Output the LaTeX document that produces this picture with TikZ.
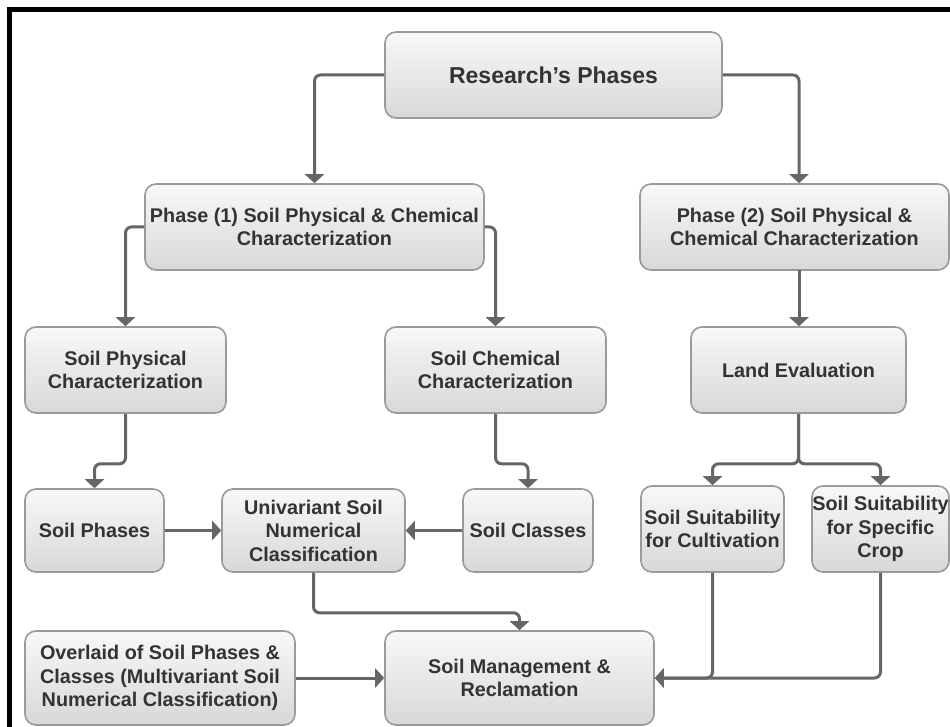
\documentclass[tikz,border=0pt]{standalone}
\usepackage{fontspec}
\setmainfont{Liberation Sans}
\usetikzlibrary{arrows.meta}
\definecolor{boxtop}{HTML}{F8F8F8}
\definecolor{boxbot}{HTML}{D8D8D8}
\definecolor{boxline}{HTML}{9A9A9A}
\definecolor{conncol}{HTML}{666666}
\definecolor{txtcol}{HTML}{333333}
\tikzset{
  box/.style={draw=boxline, line width=1.6pt, rounded corners=11pt,
    top color=boxtop, bottom color=boxbot, align=center, inner sep=0pt,
    text=txtcol, font=\bfseries\fontsize{19.8}{23.5}\selectfont},
  conn/.style={draw=conncol, line width=3pt, rounded corners=6pt,
    -{Triangle[width=19pt,length=9pt]}},
  line/.style={draw=conncol, line width=3pt, rounded corners=6pt}
}
\newcommand{\mkbox}[7]{% name, x1, x2, y1, y2, text
  \node[box, minimum width=#3pt-#2pt, minimum height=#5pt-#4pt] (#1) at ({(#2+#3)/2},{(#4+#5)/2}) {#6#7};}
\begin{document}
\begin{tikzpicture}[x=1pt,y=-1pt]
\useasboundingbox (0,0) rectangle (950,727);
\fill[white] (0,0) rectangle (950,727);
\draw[line width=4.6pt] (9.3,730) -- (9.3,9.3) -- (955,9.3);

\mkbox{rp}{385}{722}{32}{118}{\fontsize{23}{27}\selectfont}{Research’s Phases}
\mkbox{p1}{145}{484}{184}{270}{}{Phase (1) Soil Physical \& Chemical\\Characterization}
\mkbox{p2}{640}{949}{184}{270}{}{Phase (2) Soil Physical \&\\Chemical Characterization}
\mkbox{sp}{25}{226}{327}{413}{}{Soil Physical\\Characterization}
\mkbox{sc}{385}{606}{327}{413}{}{Soil Chemical\\Characterization}
\mkbox{le}{691}{906}{327}{413}{}{Land Evaluation}
\mkbox{sph}{25}{164}{489}{572}{}{Soil Phases}
\mkbox{uni}{222}{405}{489}{572}{}{Univariant Soil\\Numerical\\Classification}
\mkbox{scl}{463}{593}{489}{572}{}{Soil Classes}
\mkbox{cult}{641}{784}{486}{572}{}{Soil Suitability\\for Cultivation}
\mkbox{crop}{812}{949}{486}{572}{}{Soil Suitability\\for Specific\\Crop}
\mkbox{ov}{25}{295}{631}{725}{}{Overlaid of Soil Phases \&\\Classes (Multivariant Soil\\Numerical Classification)}
\mkbox{sm}{385}{654}{631}{725}{}{Soil Management \&\\Reclamation}

\coordinate (p2b) at (799,270);
\draw[conn] (rp.west) -| (p1.north);
\draw[conn] (rp.east) -| (p2.north -| p2b);
\draw[conn] (p1.west) -| (sp.north);
\draw[conn] (p1.east) -| (sc.north);
\draw[conn] (p2b) -- (le.north -| p2b);
\draw[conn] (sp.south) -- ++(0,50) -| (sph.north);
\draw[conn] (sc.south) -- ++(0,50) -| (scl.north);
\draw[conn] (le.south) -- ++(0,50) -| (cult.north);
\draw[conn] (le.south) -- ++(0,50) -| (crop.north);
\draw[conn] (sph.east) -- (uni.west);
\draw[conn] (scl.west) -- (uni.east);
\draw[conn] (uni.south) -- ++(0,40) -| (sm.north);
\draw[conn] (ov.east) -- (sm.west);
\draw[conn] (cult.south) |- (sm.east);
\draw[conn] (crop.south) |- (sm.east);
\end{tikzpicture}
\end{document}
